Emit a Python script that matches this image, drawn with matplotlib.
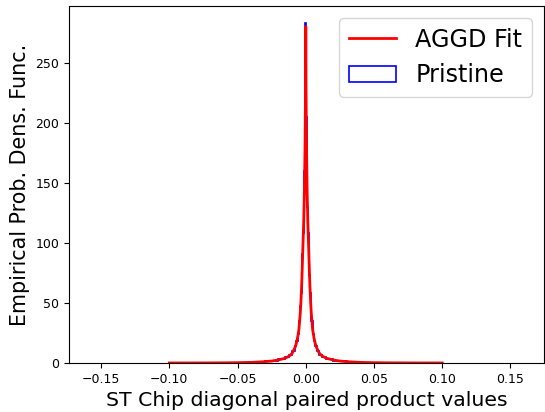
import matplotlib
matplotlib.use("Agg")
import matplotlib.pyplot as plt
import numpy as np

# AGGD fit curve, sampled for x >= 0 (curve is symmetric around 0)
fit_x_pos = [0.0, 0.0002, 0.0005, 0.001, 0.0015, 0.002, 0.0025, 0.003, 0.0035,
             0.004, 0.005, 0.006, 0.007, 0.008, 0.010, 0.012, 0.015, 0.020,
             0.025, 0.030, 0.040, 0.050, 0.060, 0.080, 0.100]
fit_y_pos = [280, 228, 183, 143, 118, 100, 82, 65, 52,
             42, 28, 21, 16, 12.5, 8, 5.8, 4, 2.5,
             1.6, 1.1, 0.5, 0.25, 0.12, 0.03, 0.01]

# Pristine histogram (density), bin edges for x >= 0 and bin heights
hist_edges_pos = [0.0002, 0.0006, 0.001, 0.0015, 0.002, 0.0025, 0.003, 0.0035,
                  0.004, 0.005, 0.006, 0.007, 0.008, 0.010, 0.012, 0.015, 0.020,
                  0.025, 0.030, 0.040, 0.050, 0.060, 0.080, 0.100]
hist_center_value = 283
hist_vals_pos = [205, 160, 130, 108, 91, 73, 58, 47, 35, 24, 18.5, 14, 10,
                 7, 4.8, 3.2, 2.0, 1.3, 0.8, 0.37, 0.18, 0.08, 0.02]

x_ticks = [-0.15, -0.10, -0.05, 0.00, 0.05, 0.10, 0.15]
y_ticks = [0, 50, 100, 150, 200, 250]

# build symmetric arrays
fx = np.concatenate([-np.array(fit_x_pos[:0:-1]), np.array(fit_x_pos)])
fy = np.concatenate([np.array(fit_y_pos[:0:-1]), np.array(fit_y_pos)])
edges = np.concatenate([-np.array(hist_edges_pos[::-1]), np.array(hist_edges_pos)])
vals = np.concatenate([np.array(hist_vals_pos[::-1]), [hist_center_value], np.array(hist_vals_pos)])
centers = 0.5 * (edges[:-1] + edges[1:])

fig = plt.figure(figsize=(5.45, 4.12), dpi=100)
ax = fig.add_axes([0.1266, 0.119, 0.8714, 0.8664])

_, _, hist_patches = ax.hist(centers, bins=edges, weights=vals, histtype='step',
                             color='blue', linewidth=1.2, label='Pristine')
fit_line, = ax.plot(fx, fy, color='red', linewidth=2, label='AGGD Fit')

ax.set_xlim(-0.1735, 0.1745)
ax.set_ylim(0, 297)
ax.set_xticks(x_ticks)
ax.set_yticks(y_ticks)
ax.tick_params(labelsize=9)
ax.set_xlabel('ST Chip diagonal paired product values', fontsize=14.7)
ax.set_ylabel('Empirical Prob. Dens. Func.', fontsize=14.9)
ax.legend(handles=[fit_line, hist_patches[0]], labels=['AGGD Fit', 'Pristine'],
          loc='upper right', fontsize=17.2)

fig.savefig('out.png', dpi=100)
